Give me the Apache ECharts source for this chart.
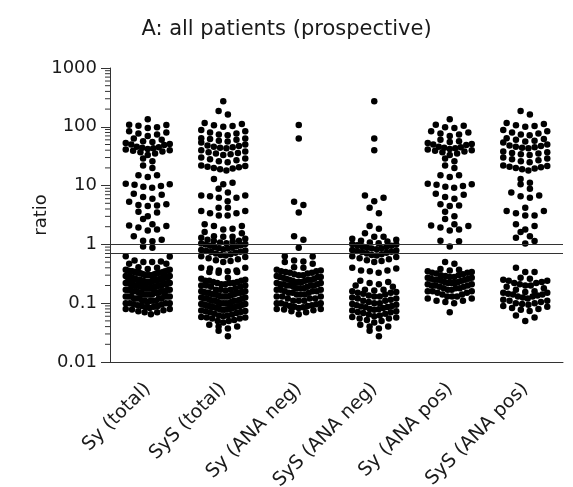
<!DOCTYPE html>
<html><head><meta charset="utf-8">
<script src="https://cdn.jsdelivr.net/npm/echarts@6/dist/echarts.min.js"></script>
<style>html,body{margin:0;padding:0;background:#fff}#c{width:573px;height:487px}</style>
</head><body><div id="c"></div>
<script>
const categories = ['Sy (total)', 'SyS (total)', 'Sy (ANA neg)', 'SyS (ANA neg)', 'Sy (ANA pos)', 'SyS (ANA pos)'];

const syAnaNeg = [
  107, 63, 5.3, 4.7, 3.5, 1.37, 1.2, 0.88, 0.63, 0.62,
  0.53, 0.51, 0.5, 0.47, 0.41, 0.4,
  0.37, 0.36, 0.35, 0.35, 0.34, 0.33, 0.33, 0.32, 0.31, 0.3, 0.3, 0.29, 0.28, 0.28, 0.28, 0.27,
  0.26, 0.26, 0.25, 0.25, 0.25, 0.24, 0.24, 0.23, 0.23, 0.23, 0.22, 0.22, 0.21, 0.21, 0.21,
  0.2, 0.2, 0.2, 0.2, 0.19, 0.19, 0.18, 0.18, 0.18, 0.17, 0.17, 0.17, 0.16, 0.16, 0.16,
  0.15, 0.15, 0.15, 0.14, 0.14, 0.14, 0.13, 0.13, 0.13, 0.12, 0.12, 0.12, 0.11, 0.11, 0.11,
  0.1, 0.1, 0.1, 0.096, 0.095, 0.092, 0.09, 0.09, 0.087, 0.085, 0.083, 0.08, 0.08, 0.078,
  0.076, 0.073, 0.07, 0.065
];
const syAnaPos = [
  134, 108, 104, 98, 95, 84, 80, 77, 74, 70, 60, 57, 55, 53, 51, 50, 49,
  46, 45, 44, 43, 42, 41, 40, 39, 38, 37, 35, 33,
  29, 26, 22, 20, 15, 14, 15, 10.7, 10.3, 9.8, 9.2, 9.6, 10.5, 7.3, 7.0, 6.4, 6.0,
  4.8, 4.5, 4.6, 3.6, 3.0, 2.7, 2.2, 2.05, 1.8, 1.72, 1.94, 2.1, 1.15, 1.13, 0.92,
  0.5, 0.47, 0.38, 0.37, 0.36, 0.35, 0.34, 0.33, 0.33, 0.32, 0.31, 0.3, 0.3, 0.29, 0.28, 0.28,
  0.27, 0.27, 0.26, 0.26, 0.25, 0.25, 0.25, 0.24, 0.24, 0.23, 0.23, 0.22, 0.22, 0.22, 0.21, 0.21,
  0.2, 0.2, 0.2, 0.19, 0.19, 0.18, 0.18, 0.18, 0.17, 0.17, 0.16, 0.16, 0.16, 0.15, 0.15,
  0.14, 0.14, 0.13, 0.13, 0.13, 0.12, 0.12, 0.11, 0.11, 0.105, 0.1, 0.07
];
const sysAnaNeg = [
  272, 63, 40, 6.8, 6.2, 5.4, 4.2, 3.4, 2.05, 1.85, 1.54, 1.35, 1.35,
  1.25, 1.2, 1.15, 1.12, 1.08, 1.05, 1.02, 1.0, 0.97, 0.95, 0.93, 0.9, 0.88, 0.86, 0.85, 0.83,
  0.8, 0.79, 0.77, 0.75, 0.74, 0.72, 0.7, 0.68, 0.66, 0.65, 0.63, 0.61, 0.58, 0.56, 0.54, 0.52, 0.5,
  0.4, 0.39, 0.36, 0.36, 0.35, 0.33, 0.24, 0.23, 0.22, 0.21, 0.2, 0.19,
  0.17, 0.17, 0.165, 0.16, 0.155, 0.15, 0.15, 0.145, 0.14, 0.135, 0.13, 0.13, 0.125, 0.12,
  0.12, 0.115, 0.11, 0.11, 0.105, 0.1, 0.1, 0.097, 0.094, 0.092, 0.09, 0.088, 0.086, 0.085,
  0.083, 0.08, 0.079, 0.077, 0.075, 0.073, 0.071, 0.07, 0.068, 0.066, 0.064, 0.062, 0.06,
  0.058, 0.057, 0.055,
  0.055, 0.052, 0.05, 0.047, 0.043, 0.04, 0.04, 0.037, 0.034, 0.0275
];
const sysAnaPos = [
  185, 162, 116, 112, 106, 103, 100, 88, 84, 80, 77, 74, 72, 64, 62, 60, 58, 56, 54,
  50, 48, 47, 46, 45, 44, 43, 38, 37, 36, 35, 34, 33, 30, 29, 28, 27, 26, 25,
  22, 21.5, 21, 20.5, 20, 19.5, 19, 18,
  13, 11.2, 10.5, 8.8, 7.6, 6.6, 6.2, 6.8, 4.2, 3.7, 3.1, 3.1, 3.4, 3.7,
  2.05, 1.62, 1.8, 2.2, 1.38, 1.14, 1.04, 1.3,
  0.4, 0.34, 0.34,
  0.27, 0.26, 0.25, 0.24, 0.24, 0.23, 0.22, 0.22, 0.21, 0.2, 0.2, 0.19, 0.18, 0.17,
  0.16, 0.155, 0.15, 0.15, 0.145, 0.14, 0.14, 0.135, 0.13, 0.13, 0.125, 0.12,
  0.115, 0.11, 0.11, 0.105, 0.1, 0.1, 0.097, 0.094, 0.09, 0.087, 0.083, 0.08, 0.077, 0.074,
  0.062, 0.057, 0.05
];
// the totals are the union of the ANA-negative and ANA-positive subgroups
const syTotal = syAnaNeg.concat(syAnaPos);
const sysTotal = sysAnaNeg.concat(sysAnaPos);
const groups = [syTotal, sysTotal, syAnaNeg, sysAnaNeg, syAnaPos, sysAnaPos];

const refLines = [1, 0.7];
const yTickLabels = ['0.01', '0.1', '1', '10', '100', '1000'];
const minorTickValues = [];
for (let d = -2; d <= 2; d++) for (let k = 2; k <= 9; k++) minorTickValues.push(k * Math.pow(10, d));

const FONT = 'DejaVu Sans';
const TXT = '#1a1a1a';
const AX = '#333';

const chart = echarts.init(document.getElementById('c'), null, { renderer: 'canvas' });

function baseOption(points) {
  return {
    animation: false,
    backgroundColor: '#fff',
    title: {
      text: 'A: all patients (prospective)',
      left: 'center', top: 14, padding: [5, 0, 5, 8],
      textStyle: { fontFamily: FONT, fontSize: 21, fontWeight: 'normal', color: TXT }
    },
    grid: { left: 110, right: 10, top: 68, bottom: 125, containLabel: false, outerBoundsMode: 'none' },
    xAxis: [
      {
        type: 'category', data: categories, boundaryGap: true,
        axisLine: { onZero: false, lineStyle: { color: AX, width: 1 } },
        axisTick: { alignWithLabel: true, length: 8, lineStyle: { color: AX } },
        axisLabel: { interval: 0, rotate: 45, margin: 24, fontFamily: FONT, fontSize: 19, color: TXT },
        splitLine: { show: false }
      },
      { type: 'value', min: -0.5, max: 5.5, show: false }
    ],
    yAxis: {
      type: 'log', logBase: 10, min: 0.01, max: 1000, splitNumber: 5,
      name: 'ratio', nameLocation: 'middle', nameGap: 60, nameRotate: 90, nameMoveOverlap: false,
      nameTextStyle: { fontFamily: FONT, fontSize: 18, color: TXT },
      axisLine: { show: true, onZero: false, lineStyle: { color: AX, width: 1 } },
      axisTick: { show: true, length: 9, lineStyle: { color: AX } },
      axisLabel: {
        margin: 13, fontFamily: FONT, fontSize: 18, color: TXT,
        formatter: v => yTickLabels[Math.round(Math.log10(v)) + 2]
      },
      splitLine: { show: false }
    },
    series: [
      {
        type: 'custom', xAxisIndex: 1, silent: true, clip: false, z: 1,
        data: minorTickValues.map(v => [-0.5, v]),
        renderItem: (params, api) => {
          const p = api.coord([api.value(0), api.value(1)]);
          return { type: 'line', shape: { x1: p[0] - 5, y1: p[1], x2: p[0], y2: p[1] },
                   style: { stroke: AX, lineWidth: 1 } };
        }
      },
      {
        type: 'scatter', xAxisIndex: 1, symbol: 'circle', symbolSize: 6.5,
        itemStyle: { color: '#000', opacity: 1 }, silent: true, z: 3,
        data: points,
        markLine: {
          silent: true, symbol: 'none', animation: false,
          label: { show: false },
          lineStyle: { color: AX, width: 1, type: 'solid' },
          data: refLines.map(v => ({ yAxis: v }))
        }
      }
    ]
  };
}

chart.setOption(baseOption([]));

const ROW_H = 6, MAX_STEP = 9.3, MAX_SPAN = 44;
const pxPerCat = chart.convertToPixel({ xAxisIndex: 1 }, 1) - chart.convertToPixel({ xAxisIndex: 1 }, 0);

function layoutGroup(vals, ci) {
  const pts = vals.map(v => ({ v, y: chart.convertToPixel({ yAxisIndex: 0 }, v) }));
  pts.sort((a, b) => b.y - a.y);
  const out = [];
  let i = 0;
  while (i < pts.length) {
    const startY = pts[i].y;
    const row = [];
    while (i < pts.length && startY - pts[i].y < ROW_H) { row.push(pts[i]); i++; }
    const n = row.length;
    const s = n > 1 ? Math.min(MAX_STEP, MAX_SPAN / (n - 1)) : 0;
    row.forEach((p, k) => {
      let off;
      if (n % 2 === 1) {
        const m = Math.ceil(k / 2);
        off = (k === 0 ? 0 : (k % 2 === 1 ? m : -m)) * s;
      } else {
        const m = Math.floor(k / 2) + 0.5;
        off = (k % 2 === 0 ? m : -m) * s;
      }
      out.push([ci + off / pxPerCat, p.v]);
    });
  }
  return out;
}

let points = [];
groups.forEach((g, ci) => { points = points.concat(layoutGroup(g, ci)); });
chart.setOption(baseOption(points), true);
</script>
</body></html>
